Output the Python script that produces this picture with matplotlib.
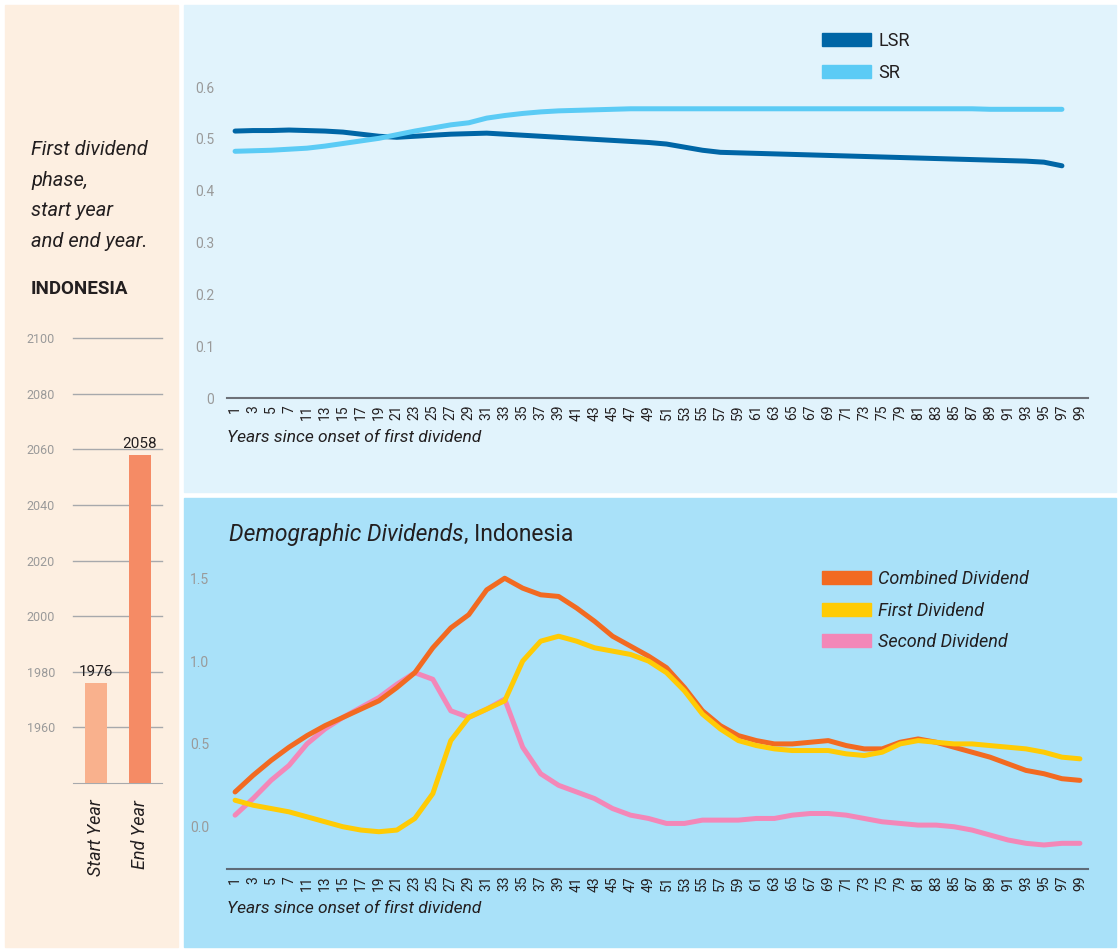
import matplotlib
matplotlib.use("Agg")
import matplotlib.pyplot as plt
from matplotlib.patches import Rectangle, Patch

plt.rcParams['font.family'] = ['Roboto', 'DejaVu Sans']

# --- data ---
years = [1, 3, 5, 7, 11, 13, 15, 17, 19, 21, 23, 25, 27, 29, 31, 33, 35, 37, 39, 41,
         43, 45, 47, 49, 51, 53, 55, 57, 59, 61, 63, 65, 67, 69, 71, 73, 75, 79, 81, 83,
         85, 87, 89, 91, 93, 95, 97, 99]

lsr = [0.515, 0.516, 0.516, 0.517, 0.516, 0.515, 0.513, 0.509, 0.505, 0.503, 0.505, 0.507,
       0.509, 0.510, 0.511, 0.509, 0.507, 0.505, 0.503, 0.501, 0.499, 0.497, 0.495, 0.493,
       0.490, 0.484, 0.478, 0.474, 0.473, 0.472, 0.471, 0.470, 0.469, 0.468, 0.467, 0.466,
       0.465, 0.464, 0.463, 0.462, 0.461, 0.460, 0.459, 0.458, 0.457, 0.455, 0.448]
sr = [0.476, 0.477, 0.478, 0.480, 0.482, 0.486, 0.491, 0.496, 0.501, 0.508, 0.515, 0.521,
      0.527, 0.531, 0.540, 0.545, 0.549, 0.552, 0.554, 0.555, 0.556, 0.557, 0.558, 0.558,
      0.558, 0.558, 0.558, 0.558, 0.558, 0.558, 0.558, 0.558, 0.558, 0.558, 0.558, 0.558,
      0.558, 0.558, 0.558, 0.558, 0.558, 0.558, 0.557, 0.557, 0.557, 0.557, 0.557]

combined = [0.21, 0.31, 0.40, 0.48, 0.55, 0.61, 0.66, 0.71, 0.76, 0.84, 0.93, 1.08,
            1.20, 1.28, 1.43, 1.50, 1.44, 1.40, 1.39, 1.32, 1.24, 1.15, 1.09, 1.03,
            0.96, 0.84, 0.70, 0.61, 0.55, 0.52, 0.50, 0.50, 0.51, 0.52, 0.49, 0.47,
            0.47, 0.51, 0.53, 0.51, 0.48, 0.45, 0.42, 0.38, 0.34, 0.32, 0.29, 0.28]
first = [0.16, 0.13, 0.11, 0.09, 0.06, 0.03, 0.00, -0.02, -0.03, -0.02, 0.05, 0.20,
         0.52, 0.66, 0.71, 0.76, 1.00, 1.12, 1.15, 1.12, 1.08, 1.06, 1.04, 1.00,
         0.93, 0.82, 0.68, 0.59, 0.52, 0.49, 0.47, 0.46, 0.46, 0.46, 0.44, 0.43,
         0.45, 0.50, 0.52, 0.51, 0.50, 0.50, 0.49, 0.48, 0.47, 0.45, 0.42, 0.41]
second = [0.07, 0.17, 0.28, 0.37, 0.50, 0.59, 0.66, 0.72, 0.78, 0.86, 0.93, 0.89,
          0.70, 0.66, 0.71, 0.77, 0.48, 0.32, 0.25, 0.21, 0.17, 0.11, 0.07, 0.05,
          0.02, 0.02, 0.04, 0.04, 0.04, 0.05, 0.05, 0.07, 0.08, 0.08, 0.07, 0.05,
          0.03, 0.02, 0.01, 0.01, 0.00, -0.02, -0.05, -0.08, -0.10, -0.11, -0.10, -0.10]

phase_labels = ["Start Year", "End Year"]
phase_years = [1976, 2058]

# --- layout helpers (pixel coords) ---
W, H = 1119, 950
fig = plt.figure(figsize=(W / 100, H / 100), dpi=100, facecolor="white")

def rect(l, t, r, b):
    return [l / W, 1 - b / H, (r - l) / W, (b - t) / H]

def panel(l, t, r, b, color):
    fig.add_artist(Rectangle((l / W, 1 - b / H), (r - l) / W, (b - t) / H,
                             transform=fig.transFigure, color=color, zorder=0))

panel(5, 5, 178, 947, "#FDEFE1")
panel(184, 5, 1116, 492, "#E1F3FC")
panel(184, 498, 1116, 947, "#A9E1F9")

dark = "#231F20"
gray = "#9A9A9A"
idx = list(range(len(years)))

# --- left panel ---
fig.text(31 / W, 1 - 140 / H, "First dividend\nphase,\nstart year\nand end year.",
         fontsize=14.5, style="italic", color=dark, va="top", ha="left",
         linespacing=1.78)
fig.text(31 / W, 1 - 289 / H, "INDONESIA", fontsize=13.5, weight="bold", color=dark,
         va="center", ha="left")

axl = fig.add_axes(rect(73, 338, 162, 783))
axl.set_facecolor("none")
axl.bar([0, 1], [y - 1940 for y in phase_years], bottom=1940, width=0.5,
        color=["#F9B18D", "#F58B65"], zorder=3)
for i, v in enumerate(phase_years):
    axl.annotate(str(v), (i, v), xytext=(0, 3), textcoords="offset points",
                 ha="center", va="bottom", fontsize=11, color=dark, zorder=4)
axl.set_ylim(1940, 2100)
axl.set_xlim(-0.52, 1.5)
axl.set_yticks(range(1960, 2101, 20))
axl.grid(axis="y", color="#A7A9AC", linewidth=1, zorder=0)
for g in axl.get_ygridlines():
    g.set_clip_on(False)
axl.set_xticks([0, 1])
axl.set_xticklabels(phase_labels, rotation=90, style="italic", fontsize=13, color=dark)
axl.tick_params(length=0)
axl.tick_params(axis="y", labelsize=9, labelcolor=gray, pad=13)
axl.tick_params(axis="x", pad=12)
for s in ["top", "left", "right"]:
    axl.spines[s].set_visible(False)
axl.spines["bottom"].set_color("#A7A9AC")

# --- top chart ---
ax1 = fig.add_axes(rect(227, 30, 1088, 398))
ax1.set_facecolor("none")
ax1.plot(idx[:len(lsr)], lsr, color="#0066A6", linewidth=3.6, solid_capstyle="round")
ax1.plot(idx[:len(sr)], sr, color="#5BCBF5", linewidth=3.6, solid_capstyle="round")
ax1.set_ylim(0, 0.71)
ax1.set_xlim(-0.45, 47.45)
ax1.set_yticks([0, 0.1, 0.2, 0.3, 0.4, 0.5, 0.6])
ax1.set_yticklabels(["0", "0.1", "0.2", "0.3", "0.4", "0.5", "0.6"])
ax1.set_xticks(idx)
ax1.set_xticklabels([str(y) for y in years], rotation=90, fontsize=10, color=dark)
ax1.tick_params(length=0)
ax1.tick_params(axis="y", labelsize=10, labelcolor=gray, pad=9)
ax1.tick_params(axis="x", pad=5)
for s in ["top", "left", "right"]:
    ax1.spines[s].set_visible(False)
ax1.spines["bottom"].set_color("#6D7178")
ax1.spines["bottom"].set_linewidth(1.5)
ax1.set_xlabel("Years since onset of first dividend", loc="left", style="italic",
               fontsize=12.5, color=dark, labelpad=7)
ax1.legend(handles=[Patch(color="#0066A6", label="LSR"), Patch(color="#5BCBF5", label="SR")],
           loc="upper left", bbox_to_anchor=(813 / W, 1 - 23 / H),
           bbox_transform=fig.transFigure, frameon=False, fontsize=13,
           handlelength=2.7, handleheight=0.75, labelspacing=0.75, handletextpad=0.4,
           borderpad=0, labelcolor=dark)

# --- bottom chart ---
ax2 = fig.add_axes(rect(227, 560, 1088, 869))
ax2.set_facecolor("none")
ax2.plot(idx, second, color="#F387B8", linewidth=3.6, solid_capstyle="round")
ax2.plot(idx, combined, color="#F26A21", linewidth=3.6, solid_capstyle="round")
ax2.plot(idx, first, color="#FFCB05", linewidth=3.6, solid_capstyle="round")
ax2.set_ylim(-0.255, 1.61)
ax2.set_xlim(-0.45, 47.45)
ax2.set_yticks([0, 0.5, 1.0, 1.5])
ax2.set_yticklabels(["0.0", "0.5", "1.0", "1.5"])
ax2.set_xticks(idx)
ax2.set_xticklabels([str(y) for y in years], rotation=90, fontsize=10, color=dark)
ax2.tick_params(length=0)
ax2.tick_params(axis="y", labelsize=10, labelcolor=gray, pad=13)
ax2.tick_params(axis="x", pad=5)
for s in ["top", "left", "right"]:
    ax2.spines[s].set_visible(False)
ax2.spines["bottom"].set_color("#5E6B78")
ax2.spines["bottom"].set_linewidth(1.5)
ax2.set_xlabel("Years since onset of first dividend", loc="left", style="italic",
               fontsize=12.5, color=dark, labelpad=7)
ax2.legend(handles=[Patch(color="#F26A21", label="Combined Dividend"),
                    Patch(color="#FFCB05", label="First Dividend"),
                    Patch(color="#F387B8", label="Second Dividend")],
           loc="upper left", bbox_to_anchor=(813 / W, 1 - 561 / H),
           bbox_transform=fig.transFigure, frameon=False,
           handlelength=2.7, handleheight=0.75, labelspacing=0.75, handletextpad=0.4,
           borderpad=0, labelcolor=dark, prop={"style": "italic", "size": 13})

t1 = fig.text(229 / W, 1 - 534 / H, "Demographic Dividends", fontsize=16.5, style="italic",
              color=dark, va="center", ha="left")
ax2.annotate(", Indonesia", xy=(1, 0), xycoords=t1, va="bottom", ha="left",
             fontsize=16.5, color=dark)

fig.savefig("out.png", dpi=100, facecolor="white")
